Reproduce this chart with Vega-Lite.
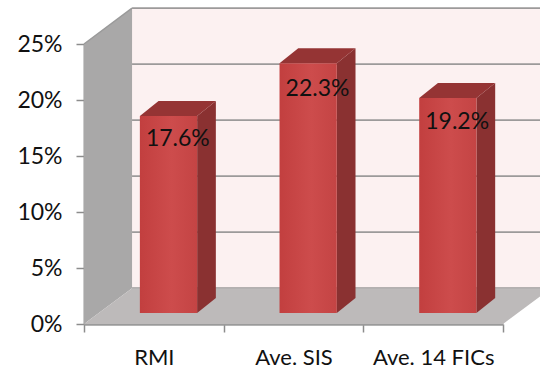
{
  "$schema": "https://vega.github.io/schema/vega-lite/v6.json",
  "width": 419,
  "height": 280,
  "autosize": "none",
  "padding": {"left": 84, "top": 44, "right": 37, "bottom": 46},
  "background": "white",
  "config": {"view": {"stroke": null}, "font": "Lato", "area": {"opacity": 1}},
  "datasets": {
    "bars": [
      {"category": "RMI", "slot": 0, "value": 17.6},
      {"category": "Ave. SIS", "slot": 1, "value": 22.3},
      {"category": "Ave. 14 FICs", "slot": 2, "value": 19.2}
    ],
    "backWall": [{"x": 0.344, "x2": 3.344, "y": 3.2, "y2": 28.2}],
    "sideWall": [
      {"x": 0, "y": 0, "y2": 25},
      {"x": 0.344, "y": 3.2, "y2": 28.2}
    ],
    "floor": [
      {"y": 0, "x": 0, "x2": 3},
      {"y": 3.2, "x": 0.344, "x2": 3.344}
    ],
    "gridlines": [
      {"tick": 0}, {"tick": 5}, {"tick": 10}, {"tick": 15}, {"tick": 20}, {"tick": 25}
    ]
  },
  "resolve": {"scale": {"x": "independent"}},
  "layer": [
    {
      "data": {"name": "backWall"},
      "mark": {"type": "rect", "fill": "#fcf1f1"},
      "encoding": {
        "x": {"field": "x", "type": "quantitative", "scale": {"domain": [0, 3], "nice": false, "zero": false}, "axis": null},
        "x2": {"field": "x2"},
        "y": {
          "field": "y", "type": "quantitative",
          "scale": {"domain": [0, 25], "nice": false, "zero": false},
          "axis": {
            "values": [0, 5, 10, 15, 20, 25],
            "title": null,
            "grid": false,
            "labelExpr": "datum.value + '%'",
            "labelFont": "Lato",
            "labelFontSize": 23,
            "labelColor": "#111111",
            "labelPadding": 14,
            "tickColor": "#8c8c8c",
            "tickSize": 8,
            "tickWidth": 1.5,
            "domainColor": "#9a9a9a",
            "domainWidth": 2
          }
        },
        "y2": {"field": "y2"}
      }
    },
    {
      "data": {"name": "gridlines"},
      "transform": [
        {"calculate": "datum.tick + 3.2", "as": "level"},
        {"calculate": "0.344", "as": "from"},
        {"calculate": "3.344", "as": "to"}
      ],
      "mark": {"type": "rule", "stroke": "#9c9a9a", "strokeWidth": 1.6},
      "encoding": {
        "x": {"field": "from", "type": "quantitative", "scale": {"domain": [0, 3], "nice": false, "zero": false}, "axis": null},
        "x2": {"field": "to"},
        "y": {"field": "level", "type": "quantitative", "scale": {"domain": [0, 25], "nice": false, "zero": false}}
      }
    },
    {
      "data": {"name": "sideWall"},
      "mark": {
        "type": "area",
        "opacity": 1,
        "line": {"color": "#9a9a9a", "strokeWidth": 1.5},
        "fill": "#a9a8a8"
      },
      "encoding": {
        "x": {"field": "x", "type": "quantitative", "scale": {"domain": [0, 3], "nice": false, "zero": false}, "axis": null},
        "y": {"field": "y2", "type": "quantitative", "scale": {"domain": [0, 25], "nice": false, "zero": false}},
        "y2": {"field": "y"}
      }
    },
    {
      "data": {"name": "floor"},
      "mark": {"type": "area", "orient": "horizontal", "fill": "#bdbaba"},
      "encoding": {
        "y": {"field": "y", "type": "quantitative", "scale": {"domain": [0, 25], "nice": false, "zero": false}},
        "x": {"field": "x", "type": "quantitative", "scale": {"domain": [0, 3], "nice": false, "zero": false}, "axis": null},
        "x2": {"field": "x2"}
      }
    },
    {
      "data": {"name": "bars"},
      "transform": [
        {"calculate": "0", "as": "near"},
        {"calculate": "1", "as": "far"},
        {"fold": ["near", "far"], "as": ["plane", "depth"]},
        {"calculate": "datum.slot + 0.81 + datum.depth * 0.134", "as": "edge"},
        {"calculate": "0.98 + datum.depth * 1.34", "as": "bottom"},
        {"calculate": "datum.value + datum.bottom", "as": "top"}
      ],
      "mark": {"type": "area", "fill": "#8a3131"},
      "encoding": {
        "x": {"field": "edge", "type": "quantitative", "scale": {"domain": [0, 3], "nice": false, "zero": false}, "axis": null},
        "y": {"field": "top", "type": "quantitative", "scale": {"domain": [0, 25], "nice": false, "zero": false}},
        "y2": {"field": "bottom"},
        "detail": {"field": "category"}
      }
    },
    {
      "data": {"name": "bars"},
      "transform": [
        {"calculate": "0", "as": "near"},
        {"calculate": "1", "as": "far"},
        {"fold": ["near", "far"], "as": ["plane", "depth"]},
        {"calculate": "datum.slot + 0.4 + datum.depth * 0.134", "as": "left"},
        {"calculate": "datum.slot + 0.81 + datum.depth * 0.134", "as": "right"},
        {"calculate": "datum.value + 0.98 + datum.depth * 1.34", "as": "top"}
      ],
      "mark": {"type": "area", "orient": "horizontal", "fill": "#953434"},
      "encoding": {
        "y": {"field": "top", "type": "quantitative", "scale": {"domain": [0, 25], "nice": false, "zero": false}},
        "x": {"field": "left", "type": "quantitative", "scale": {"domain": [0, 3], "nice": false, "zero": false}, "axis": null},
        "x2": {"field": "right"},
        "detail": {"field": "category"}
      }
    },
    {
      "data": {"name": "bars"},
      "transform": [
        {"calculate": "datum.slot + 0.4", "as": "left"},
        {"calculate": "datum.slot + 0.81", "as": "right"},
        {"calculate": "0.98", "as": "bottom"},
        {"calculate": "datum.value + 0.98", "as": "top"}
      ],
      "mark": {
        "type": "rect",
        "fill": {
          "gradient": "linear", "x1": 0, "x2": 1, "y1": 0, "y2": 0,
          "stops": [
            {"offset": 0, "color": "#c23f3f"},
            {"offset": 0.55, "color": "#cd4c4c"},
            {"offset": 1, "color": "#c44444"}
          ]
        }
      },
      "encoding": {
        "x": {"field": "left", "type": "quantitative", "scale": {"domain": [0, 3], "nice": false, "zero": false}, "axis": null},
        "x2": {"field": "right"},
        "y": {"field": "bottom", "type": "quantitative", "scale": {"domain": [0, 25], "nice": false, "zero": false}},
        "y2": {"field": "top"}
      }
    },
    {
      "data": {"name": "bars"},
      "transform": [
        {"calculate": "datum.value * 0.94", "as": "labelHeight"},
        {"calculate": "format(datum.value, '.1f') + '%'", "as": "label"}
      ],
      "mark": {"type": "text", "font": "Lato", "fontSize": 23, "color": "#111111", "dx": 24, "baseline": "middle"},
      "encoding": {
        "x": {
          "field": "category", "type": "nominal", "sort": null,
          "scale": {"paddingInner": 0, "paddingOuter": 0},
          "axis": {
            "title": null,
            "labelAngle": 0,
            "labelFont": "Lato",
            "labelFontSize": 22,
            "labelColor": "#111111",
            "labelPadding": 15,
            "tickBand": "extent",
            "tickColor": "#8c8c8c",
            "tickSize": 8,
            "tickWidth": 1.5,
            "domainColor": "#9a9a9a",
            "domainWidth": 2.5
          }
        },
        "y": {"field": "labelHeight", "type": "quantitative", "scale": {"domain": [0, 25], "nice": false, "zero": false}},
        "text": {"field": "label"}
      }
    }
  ]
}
